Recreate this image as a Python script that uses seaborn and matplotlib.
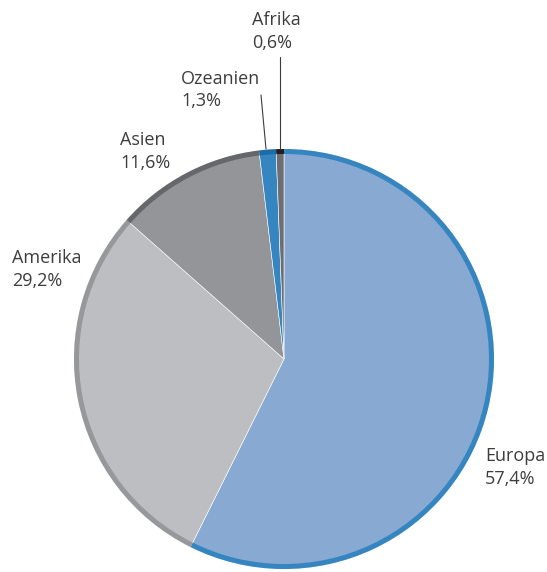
import matplotlib
matplotlib.use("Agg")
import matplotlib.pyplot as plt
import seaborn as sns

categories = ["Europa", "Amerika", "Asien", "Ozeanien", "Afrika"]
values = [57.4, 29.2, 11.6, 1.3, 0.6]
value_labels = ["57,4%", "29,2%", "11,6%", "1,3%", "0,6%"]

fill_colors = ["#87a9d2", "#bdbec1", "#939598", "#3586c0", "#6d6e71"]
edge_colors = ["#3586c0", "#97989b", "#66676a", "#1d6ca8", "#231f20"]

sns.set_theme(style="white")
plt.rcParams["font.family"] = ["Open Sans", "DejaVu Sans"]

W, H = 547, 572
fig = plt.figure(figsize=(W / 100, H / 100), dpi=100)
ax = fig.add_axes([0, 0, 1, 1])
ax.set_xlim(0, W)
ax.set_ylim(0, H)
ax.set_aspect("equal")
ax.axis("off")

cx, cy, r = 284, H - 359, 210

ax.pie(values, colors=fill_colors, startangle=90, counterclock=False,
       center=(cx, cy), radius=r, frame=True,
       wedgeprops=dict(edgecolor="white", linewidth=0.4))
ax.pie(values, colors=edge_colors, startangle=90, counterclock=False,
       center=(cx, cy), radius=r, frame=True,
       wedgeprops=dict(width=5, edgecolor="none", linewidth=0))
ax.set_xlim(0, W)
ax.set_ylim(0, H)
ax.axis("off")

# label positions (left x, baseline of first line) in pixel coords (top-down)
label_pos = {
    "Afrika": (252, 25),
    "Ozeanien": (181, 84),
    "Asien": (120, 145),
    "Amerika": (12, 263),
    "Europa": (485, 461),
}
txt_color = "#3d3d3d"
for cat, lab in zip(categories, value_labels):
    x, yb = label_pos[cat]
    ax.text(x, H - yb, cat, ha="left", va="baseline", fontsize=13, color=txt_color)
    ax.text(x, H - (yb + 22.5), lab, ha="left", va="baseline", fontsize=13, color=txt_color)

# leader lines
ax.plot([261, 266], [H - 95, H - 149], color="#3d3d3d", linewidth=0.8)
ax.plot([280, 280], [H - 57, H - 149], color="#3d3d3d", linewidth=0.8)

fig.savefig("out.png", dpi=100, facecolor="white")
